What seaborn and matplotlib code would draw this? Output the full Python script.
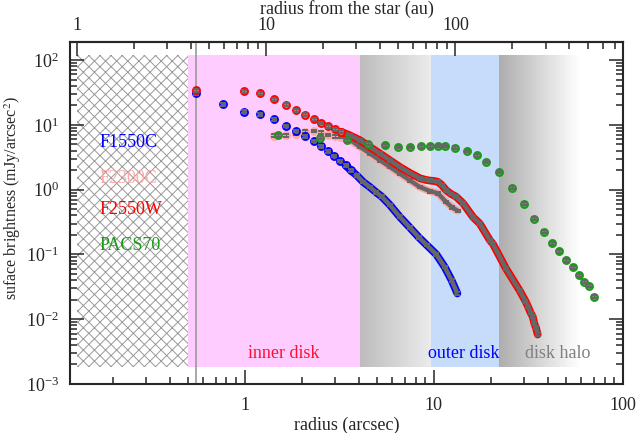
import numpy as np
import matplotlib
matplotlib.use('Agg')
import matplotlib.pyplot as plt
from matplotlib.ticker import LogLocator, FuncFormatter, NullFormatter, FixedLocator
import pandas as pd
import seaborn as sns

# radial profiles (radius in arcsec, brightness in mJy/arcsec^2)
r_f1550 = [0.55, 0.77, 0.99, 1.21, 1.43, 1.65, 1.87, 2.09, 2.31, 2.53, 2.75, 2.97,
           3.19, 3.41, 3.63, 3.90, 4.23, 4.58, 4.97, 5.30, 5.85, 6.60, 7.46, 8.30,
           9.15, 10.3, 11.4, 12.4, 13.3]
sb_f1550 = [30.6, 20.9, 15.9, 14.5, 12.1, 9.64, 8.07, 6.68, 5.65, 4.70, 3.92, 3.31,
            2.77, 2.38, 1.99, 1.67, 1.31, 1.10, 0.90, 0.78, 0.58, 0.38, 0.26, 0.185,
            0.14, 0.10, 0.064, 0.040, 0.025]

r_f2300 = [1.43, 1.65, 1.87, 2.09, 2.31, 2.53, 2.76, 2.99, 3.24, 3.59, 4.06, 4.58,
           5.18, 5.85, 6.60, 7.46, 8.42, 9.50, 10.5, 11.6, 12.5, 13.4]
sb_f2300 = [6.8, 6.92, 7.35, 7.82, 8.07, 7.6, 7.0, 6.7, 6.5, 5.93, 4.57, 3.61,
            2.84, 2.24, 1.77, 1.39, 1.10, 0.95, 0.88, 0.644, 0.53, 0.47]

r_f2550 = [0.55, 0.99, 1.21, 1.43, 1.65, 1.87, 2.09, 2.31, 2.53, 2.76, 2.99, 3.24,
           3.59, 4.06, 4.58, 5.18, 5.85, 6.60, 7.46, 8.42, 9.00, 9.50, 10.0, 10.5,
           11.0, 11.6, 12.3, 13.1, 14.3, 16.1, 17.5, 19.8, 20.5, 24.1, 28.4, 30.5,
           31.5, 32.5, 33.3, 34.0, 34.6, 35.4]
sb_f2550 = [34.3, 33.0, 30.5, 24.7, 20.6, 16.9, 14.4, 12.2, 10.7, 9.5, 8.5, 7.8,
            6.9, 5.8, 4.57, 3.61, 2.84, 2.24, 1.81, 1.50, 1.42, 1.38, 1.36, 1.32,
            1.18, 0.98, 0.86, 0.78, 0.61, 0.377, 0.298, 0.164, 0.146, 0.060, 0.0277, 0.019,
            0.0155, 0.0125, 0.011, 0.0085, 0.0075, 0.0058]

r_pacs = [1.49, 2.49, 3.48, 4.49, 5.51, 6.47, 7.46, 8.5, 9.5, 10.5, 11.5, 13.0,
          14.9, 16.9, 18.8, 22.0, 25.8, 29.9, 34.0, 38.2, 42.1, 46.0, 49.9, 54.1,
          58.2, 62.1, 66.2, 70.2]
sb_pacs = [6.92, 6.37, 5.79, 5.15, 4.84, 4.57, 4.57, 4.68, 4.68, 4.72, 4.72, 4.47,
           3.95, 3.40, 2.67, 1.87, 1.07, 0.607, 0.356, 0.224, 0.148, 0.111, 0.0817, 0.0629,
           0.0473, 0.0378, 0.0328, 0.0222]

dist_pc = 7.7   # arcsec -> au

sns.set_style('ticks')
plt.rcParams['font.family'] = ['Liberation Serif', 'DejaVu Serif']
plt.rcParams['mathtext.fontset'] = 'stix'
plt.rcParams['font.size'] = 13
plt.rcParams['hatch.linewidth'] = 0.7
plt.rcParams['axes.linewidth'] = 1.5

fig = plt.figure(figsize=(6.39, 4.33), dpi=100)
ax = fig.add_axes([70/639, 1-384/433, 553/639, 342/433])
ax.set_xscale('log')
ax.set_yscale('log')
ax.set_xlim(0.119, 100)
ax.set_ylim(1e-3, 190)

# background zones
y0, y1 = 0.0018, 120
ax.fill_between([1/dist_pc, 0.5], y0, y1, facecolor='white', edgecolor='#9a9a9a',
                hatch='xxx', linewidth=0, zorder=0)
ax.fill_between([0.5, 4.06], y0, y1, color='#ffccff', linewidth=0, zorder=0)
ax.fill_between([9.6, 22.0], y0, y1, color='#c6dcfa', linewidth=0, zorder=0)

def gradient(x_a, x_b, g_a, g_b, n=60):
    edges = np.logspace(np.log10(x_a), np.log10(x_b), n + 1)
    for i in range(n):
        g = g_a + (g_b - g_a) * i / (n - 1)
        ax.fill_between([edges[i], edges[i + 1] * 1.003], y0, y1, color=(g, g, g),
                        linewidth=0, antialiased=False, zorder=0)

gradient(4.06, 9.6, 0.74, 0.92)
gradient(22.0, 60.0, 0.68, 1.0)

ax.axvline(0.55, color='#a0a0a0', lw=1.3, zorder=1)

series = [
    (r_f2300, sb_f2300, '#ffa8a8', (0.93, 0.66, 0.66), 3.0, 3),
    (r_f1550, sb_f1550, '#0000ff', (0.35, 0.35, 0.80), 3.4, 4),
    (r_f2550, sb_f2550, '#ff0000', (0.88, 0.40, 0.40), 3.0, 5),
    (r_pacs, sb_pacs, '#189a18', (0.35, 0.60, 0.35), 999, 6),
]

for r, sb, col, face, dense_from, z in series:
    df = pd.DataFrame({'r': r, 'sb': sb})
    dense = df[df['r'] >= dense_from]
    sparse = df[df['r'] < dense_from + 0.3]
    if len(dense) > 1:
        sns.lineplot(data=dense, x='r', y='sb', color=col, lw=5.6, sort=False,
                     estimator=None, ax=ax, zorder=z, solid_capstyle='round')
        sns.lineplot(data=dense, x='r', y='sb', color='#686868', lw=3.2, sort=False,
                     estimator=None, ax=ax, zorder=z + 0.1, solid_capstyle='butt')
    sns.scatterplot(data=sparse, x='r', y='sb', s=26, color=face, edgecolor=col,
                    linewidth=1.3, ax=ax, zorder=z + 0.2)
    yerr = np.array(sb) * 0.05
    ax.errorbar(r, sb, yerr=yerr, fmt='none', ecolor='#666666', elinewidth=0.8,
                capsize=2.0, capthick=1.4, zorder=z + 0.3)

# text labels
for txt, yy, col in [('F1550C', 0.705, '#0000ff'), ('F2300C', 0.602, '#ffa8a8'),
                     ('F2550W', 0.509, '#ff0000'), ('PACS70', 0.406, '#189a18')]:
    ax.text(0.054, yy, txt, color=col, transform=ax.transAxes, ha='left', va='center',
            fontsize=13, zorder=10)
ax.text(0.387, 0.09, 'inner disk', color='#ff1030', transform=ax.transAxes,
        ha='center', va='center', fontsize=13, zorder=10)
ax.text(0.7125, 0.09, 'outer disk', color='#0000ff', transform=ax.transAxes,
        ha='center', va='center', fontsize=13, zorder=10)
ax.text(0.8825, 0.09, 'disk halo', color='#808080', transform=ax.transAxes,
        ha='center', va='center', fontsize=13, zorder=10)

plain = FuncFormatter(lambda v, p: '%g' % v)
ax.xaxis.set_major_locator(FixedLocator([1, 10, 100]))
ax.xaxis.set_minor_locator(FixedLocator([0.2, 0.3, 0.4, 0.5, 0.6, 0.7, 0.8, 0.9,
                                         2, 3, 4, 5, 6, 7, 8, 9,
                                         20, 30, 40, 50, 60, 70, 80, 90]))
ax.xaxis.set_major_formatter(plain)
ax.xaxis.set_minor_formatter(NullFormatter())
ax.yaxis.set_major_locator(LogLocator(base=10, numticks=10))
ax.yaxis.set_minor_locator(LogLocator(base=10, subs=np.arange(2, 10), numticks=10))
ax.tick_params(which='both', direction='in', top=False, right=True, width=1.1)
ax.tick_params(which='major', length=10, labelsize=13)
ax.tick_params(axis='x', which='major', pad=9)
ax.tick_params(axis='y', which='major', pad=8)
ax.tick_params(which='minor', length=5)

ax.set_xlabel('radius (arcsec)', fontsize=13, labelpad=2)
ax.set_ylabel('suface brightness (mJy/arcsec$^2$)', fontsize=11.5)
ax.yaxis.set_label_coords(-0.085, 0.545)

top = ax.secondary_xaxis('top', functions=(lambda x: x * dist_pc, lambda a: a / dist_pc))
top.xaxis.set_major_locator(FixedLocator([1, 10, 100]))
top.xaxis.set_minor_locator(FixedLocator([2, 3, 4, 5, 6, 7, 8, 9,
                                          20, 30, 40, 50, 60, 70, 80, 90,
                                          200, 300, 400, 500, 600, 700]))
top.xaxis.set_major_formatter(plain)
top.xaxis.set_minor_formatter(NullFormatter())
top.tick_params(which='both', direction='in', width=1.1)
top.tick_params(which='major', length=10, labelsize=13, pad=6)
top.tick_params(which='minor', length=5)
top.set_xlabel('radius from the star (au)', fontsize=13, labelpad=2)

fig.savefig('out.png', dpi=100)
